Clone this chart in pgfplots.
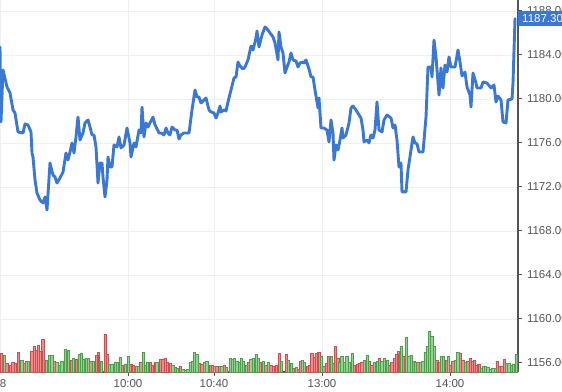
\documentclass[border=0pt]{standalone}
\usepackage{pgfplots}
\pgfplotsset{compat=1.18}
\usepackage{fontspec}
\setmainfont{Liberation Sans}
\definecolor{lineblue}{HTML}{3A78D4}
\definecolor{tickgray}{HTML}{555555}
\definecolor{gridgray}{HTML}{EFEFEF}
\definecolor{redfill}{HTML}{F28A8A}
\definecolor{reddraw}{HTML}{C85050}
\definecolor{greenfill}{HTML}{92D392}
\definecolor{greendraw}{HTML}{4E9E4E}
\begin{document}
\begin{tikzpicture}
% price axis
\begin{axis}[
  at={(0,0)}, anchor=south west,
  scale only axis, width=518pt, height=372pt,
  xmin=0, xmax=518, ymin=1155.18, ymax=1189,
  axis x line*=bottom, axis y line*=right,
  axis line style={-, draw=tickgray, line width=1.2pt},
  tick align=outside, major tick length=4pt,
  tick style={draw=tickgray, line width=1pt},
  xtick={0,128,214,322,450},
  xticklabels={\phantom{0}8,10:00,10:40,13:00,14:00},
  ytick={1156,1160,1164,1168,1172,1176,1180,1184,1188},
  yticklabel pos=right,
  /pgf/number format/.cd, fixed, fixed zerofill, precision=2, 1000 sep={}, assume math mode=true,
  /pgfplots/.cd,
  ticklabel style={font=\fontsize{11.5}{13}\selectfont, text=tickgray},
  yticklabel style={xshift=1.5pt},
  grid=major, major grid style={draw=gridgray, line width=0.8pt},
  clip mode=individual,
]
\addplot[lineblue, line width=2.9pt, line join=round, line cap=round] table {
x p
0 1184.73
1 1177.91
3 1182.64
7 1181.09
10 1180.55
13 1179.00
15 1178.73
18 1177.00
23 1176.91
25 1177.73
28 1177.64
31 1177.00
32 1175.09
33 1174.73
35 1172.64
37 1171.45
40 1170.82
43 1170.55
45 1171.09
47 1169.91
50 1174.18
53 1173.09
55 1172.91
57 1172.36
60 1172.82
63 1173.36
66 1175.09
68 1174.45
70 1175.18
72 1176.00
74 1175.09
76 1176.55
78 1178.36
80 1176.27
83 1176.91
85 1177.82
88 1178.09
90 1177.45
92 1176.73
94 1176.73
96 1175.64
98 1172.36
100 1174.18
102 1174.18
103 1172.91
105 1171.09
107 1172.64
108 1174.73
110 1173.82
112 1173.82
114 1175.82
117 1175.64
119 1176.55
121 1175.55
124 1175.82
127 1177.36
130 1176.00
131 1174.73
134 1176.00
136 1175.64
139 1177.18
141 1176.91
142 1179.27
144 1176.55
146 1177.82
148 1177.45
150 1177.82
153 1178.36
155 1177.64
159 1176.91
161 1176.91
164 1176.73
166 1177.36
168 1176.91
170 1176.73
172 1177.45
175 1177.18
177 1177.18
179 1176.36
181 1176.73
184 1176.91
189 1176.91
192 1179.00
195 1180.82
197 1180.18
199 1180.18
201 1179.64
204 1179.91
206 1180.09
209 1179.00
211 1178.82
214 1178.73
216 1178.27
218 1178.73
220 1179.36
221 1178.82
224 1179.00
226 1178.91
228 1179.73
231 1180.82
234 1181.91
236 1182.00
238 1183.36
240 1183.00
243 1182.73
245 1182.91
248 1183.55
251 1184.82
253 1184.45
256 1185.55
257 1186.18
259 1184.73
262 1185.82
265 1186.55
268 1186.27
270 1186.00
273 1185.64
275 1185.09
278 1183.55
279 1186.09
281 1184.73
283 1184.18
285 1182.36
287 1182.91
289 1183.36
291 1184.18
293 1183.55
296 1183.45
298 1182.91
300 1183.27
303 1183.36
304 1183.27
306 1183.55
309 1182.73
311 1182.00
313 1182.00
315 1180.82
318 1179.18
319 1180.09
321 1177.36
324 1177.36
327 1177.18
329 1176.09
331 1178.09
333 1176.91
334 1174.45
336 1175.82
338 1175.36
340 1176.27
342 1177.36
343 1176.45
346 1176.73
349 1177.82
351 1179.18
353 1179.36
356 1179.00
359 1178.55
361 1178.27
363 1177.18
364 1176.09
367 1176.27
369 1176.00
371 1176.73
373 1176.45
375 1177.18
377 1179.73
379 1177.18
382 1177.00
384 1178.09
387 1178.55
391 1178.27
393 1177.36
395 1177.64
397 1176.27
399 1173.82
401 1174.18
402 1171.55
406 1171.55
408 1173.55
411 1175.36
413 1176.55
415 1176.00
417 1175.91
419 1175.18
423 1175.18
426 1178.36
428 1182.91
431 1182.91
432 1182.00
434 1185.36
436 1183.82
439 1180.36
441 1182.82
443 1181.00
445 1183.09
447 1182.45
449 1183.82
451 1182.91
455 1182.91
458 1184.45
460 1183.36
462 1182.09
465 1182.45
467 1181.09
470 1180.36
471 1179.27
473 1182.36
476 1181.45
477 1181.00
481 1181.00
483 1181.55
487 1181.45
491 1181.00
494 1181.27
496 1179.73
498 1180.27
501 1179.91
503 1177.91
506 1177.82
508 1179.91
512 1180.00
513 1181.45
515 1187.30
};
\coordinate (lastlab) at (axis cs:518,1187.3);
\end{axis}
% volume axis
\begin{axis}[
  at={(0,0)}, anchor=south west,
  scale only axis, width=518pt, height=372pt,
  xmin=0, xmax=518, ymin=0, ymax=372,
  hide axis,
]
\addplot[ybar, bar width=2.4, bar shift=0pt, fill=redfill, draw=reddraw, line width=0.5pt] table {
x h
1 19
6.7 9
10 7
12.7 10
15 9
18.3 20
24 9
31.7 21
34 26
36 22
38.3 27
40.7 21
42.7 33
54.3 11
59 7
71 12
76 13
90.7 11
96.7 17
98.3 20
105 38
107.3 18
122.3 7
130.7 8
132.7 7
140.7 10
145.7 7
150 10
152.3 7
155 10
160 13
162.7 13
165 14
167.3 10
170 9
175 5
180 6
199 9
201.7 8
210 7
212.3 7
216.7 6
219.3 6
224 7
239 10
248.3 10
260 10
265.7 7
270.7 7
273.3 6
276 7
279 19
286 18
293.3 4
298.3 3
300.3 11
307 6
309.3 7
311.7 19
314.3 15
316.7 19
318.7 20
323.7 6
326 9
328.3 16
333.3 9
335.3 26
337.7 14
354.3 7
357 8
359.3 9
361.7 10
369.3 11
371.7 7
379.3 14
389.3 7
391.7 10
394.3 14
396.7 18
398.3 21
403.3 16
413.7 11
417.7 10
436.7 12
438.7 10
446 12
450.3 7
452.7 11
460.3 19
462.7 12
467.7 11
470 14
472 11
474.3 12
476.7 7
478.7 8
497 11
499.3 6
501.7 6
504.3 13
511 7
};
\addplot[ybar, bar width=2.4, bar shift=0pt, fill=greenfill, draw=greendraw, line width=0.5pt] table {
x h
4 17
21.7 12
26 11
28.3 11
46 12
49.3 17
51.7 17
56.7 10
61.7 11
65 23
68.3 22
73.3 14
79 18
81 19
83.3 13
86 14
88.3 14
93.3 11
101 11
109.3 8
111.7 8
115 10
117.3 10
120 15
125 8
128.3 16
136 6
138.3 6
143.3 20
147.3 10
156.7 10
172.7 7
177.3 4
182.7 3
185 2
187.7 3
190 10
192.3 11
194.3 20
196.7 18
204 10
206.7 11
214.3 6
221.7 6
226 5
230 14
232.3 13
234.3 14
236.7 11
241 14
243.3 11
246 7
250.7 13
253.3 14
256 18
258.3 14
263.3 11
268.3 10
281 11
288.3 12
291 9
296 5
302 12
304.3 10
321 16
331 16
339.3 10
341.7 16
344.3 10
346.7 16
349.3 10
352 19
364.3 12
367 17
374.3 10
377 11
381.7 11
384.3 14
387 12
401 26
406 35
408.7 16
411 17
415.3 10
420.3 10
422.7 11
425 20
427 26
429.3 41
431.7 36
434.3 26
441 16
443.3 16
448.3 16
455 12
457.7 20
465 10
481 4
483.3 6
485.3 6
487.7 5
490 3
492.7 4
495 4
506 9
508.7 9
513.3 8
516 18
};
\end{axis}
\node[anchor=west, fill=lineblue, text=white, inner xsep=4pt, inner ysep=0pt, minimum height=15pt, font=\fontsize{11.5}{13}\selectfont] at (lastlab) {1187.30};
\pgfresetboundingbox
\useasboundingbox (0,-19pt) rectangle (562pt,372pt);
\end{tikzpicture}
\end{document}
